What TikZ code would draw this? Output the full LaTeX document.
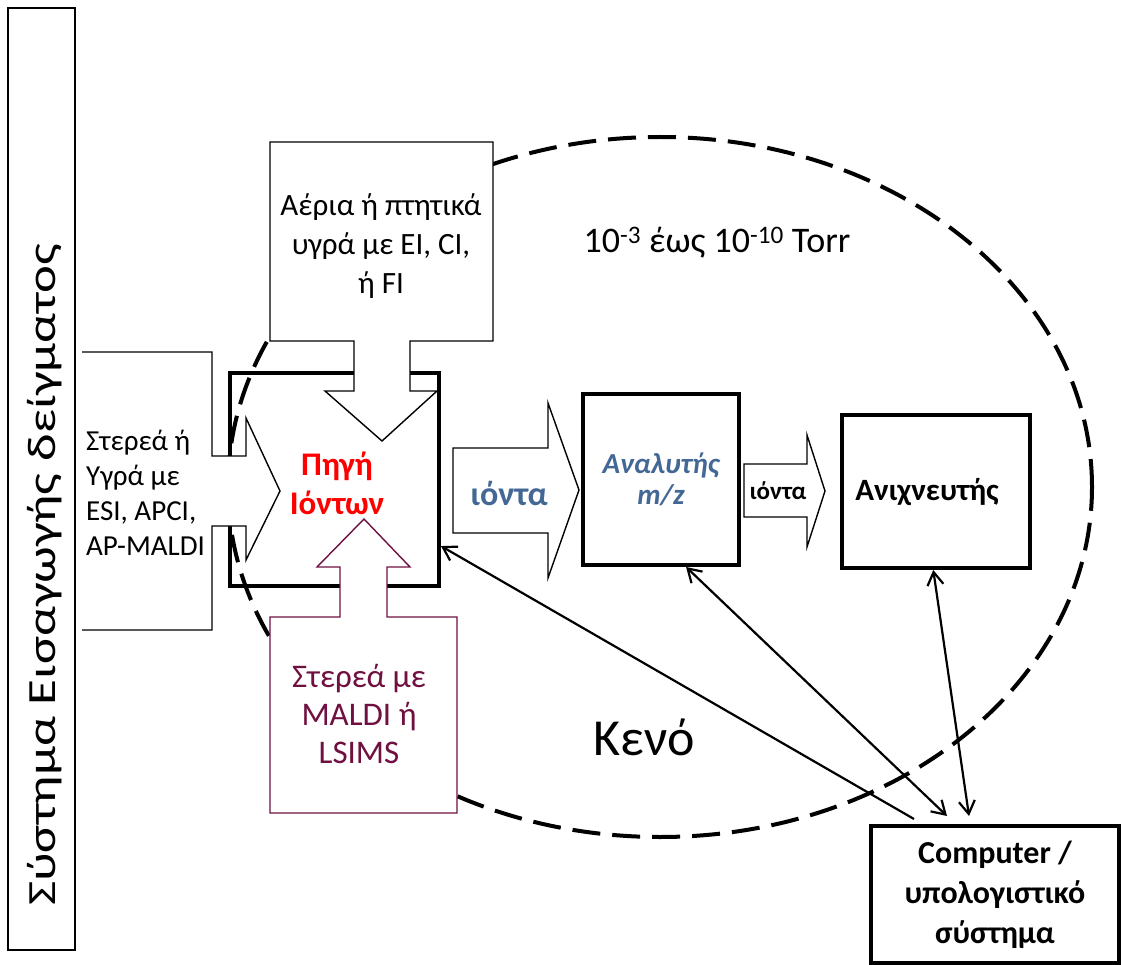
\documentclass[tikz,border=0pt]{standalone}
\usepackage{fontspec}
\setmainfont{Carlito}
\usepackage{tikz}
\usetikzlibrary{arrows.meta, positioning, calc}
\definecolor{srcred}{RGB}{255,0,0}
\definecolor{ionblue}{RGB}{68,104,150}
\definecolor{maldipurple}{RGB}{112,16,64}
\definecolor{mydark}{RGB}{0,0,0}
\tikzset{
  unitbox/.style={rectangle, draw=mydark, fill=white, line width=4pt,
    align=center, inner sep=2pt},
  inletbox/.style={rectangle, draw=mydark, line width=1.6pt,
    minimum width=67pt, minimum height=942pt},
  callout/.style={draw=mydark, fill=white, line width=1.4pt},
  maldicallout/.style={draw=maldipurple, fill=white, line width=1.4pt},
  ionarrow/.style={draw=mydark, fill=white, line width=1.4pt},
  vacuum/.style={draw=mydark, line width=4pt, dash pattern=on 28pt off 12pt},
  ctrltwo/.style={{Straight Barb[length=13pt,width=16pt]}-{Straight Barb[length=13pt,width=16pt]},
    line width=2.2pt, color=mydark},
  ctrlone/.style={{Straight Barb[length=13pt,width=16pt]}-, line width=2.2pt, color=mydark},
  lbl/.style={font=\fontsize{31}{39}\selectfont, align=center, inner sep=0pt}
}

\begin{document}
\begin{tikzpicture}[x=1pt, y=-1pt]

  \useasboundingbox (0,0) rectangle (1121,965);

  % ── Vacuum region (dashed) ────────────────────────────────────────────────
  \draw[vacuum] (660,487) ellipse [x radius=432pt, y radius=350pt];

  % ── Sample inlet column ───────────────────────────────────────────────────
  \node[inletbox] (inlet) at (41.5,479) {};
  \node[font=\fontsize{40}{48}\selectfont, rotate=90, xscale=1.32, inner sep=0pt]
       (inletlbl) at (45,575) {Σύστημα Εισαγωγής δείγματος};

  % ── Ion source ────────────────────────────────────────────────────────────
  \node[unitbox, fill=none, minimum width=209pt, minimum height=213pt]
       (source) at (334.5,479.5) {};

  % ── Inlet callouts: gas (top), liquid (left), MALDI (bottom) ──────────────
  \draw[callout] (354,341) -- (270,341) -- (270,142) -- (493,142) -- (493,341)
    -- (410,341) -- (410,391) -- (437,391) -- (382,441) -- (325,391)
    -- (354,391) -- cycle;
  \draw[callout] (82,352) -- (212,352) -- (212,456) -- (246,456) -- (246,418)
    -- (280,491) -- (246,560) -- (246,526) -- (212,526) -- (212,630)
    -- (82,630);
  \draw[maldicallout] (340,617) -- (270,617) -- (270,813) -- (457,813)
    -- (457,617) -- (387,617) -- (387,567) -- (410,567) -- (364,519)
    -- (317,567) -- (340,567) -- cycle;

  \node[lbl] (gaslbl) at (381,246) {Αέρια ή πτητικά\\υγρά με EI, CI,\\ή FI};
  \node[lbl, font=\fontsize{29}{35}\selectfont, align=left, anchor=west]
       (liqlbl) at (86,493) {Στερεά ή\\Υγρά με\\ESI, APCI,\\AP-MALDI};
  \node[lbl, text=maldipurple, font=\fontsize{33}{38}\selectfont]
       (maldilbl) at (359,714) {Στερεά με\\MALDI ή\\LSIMS};
  \node[lbl, text=srcred, font=\fontsize{33}{39}\selectfont\bfseries]
       (srclbl) at (337,483) {Πηγή\\Ιόντων};

  % ── Ion beam arrows ───────────────────────────────────────────────────────
  \draw[ionarrow] (453,448) -- (548,448) -- (548,403) -- (579,490)
    -- (548,578) -- (548,533) -- (453,533) -- cycle;
  \node[lbl, text=ionblue, font=\fontsize{34}{40}\selectfont\bfseries]
       (ions1) at (509,493) {ιόντα};
  \draw[ionarrow] (744,464) -- (807,464) -- (807,435) -- (825,491)
    -- (807,547) -- (807,517) -- (744,517) -- cycle;
  \node[lbl, font=\fontsize{25}{30}\selectfont\bfseries] (ions2) at (778,491) {ιόντα};

  % ── Analyser, detector, computer ──────────────────────────────────────────
  \node[unitbox, minimum width=156pt, minimum height=171pt, text=ionblue,
        font=\fontsize{29}{31}\selectfont\bfseries\itshape]
       (analyzer) at (661,479.5) {Αναλυτής\\m/z};
  \node[unitbox, minimum width=188pt, minimum height=153pt]
       (detector) at (936,491.5) {};
  \node[lbl, font=\fontsize{31}{36}\selectfont\bfseries]
       (detlbl) at (927,492) {Ανιχνευτής};
  \node[unitbox, minimum width=248pt, minimum height=137pt,
        font=\fontsize{32}{40}\selectfont\bfseries]
       (computer) at (995,894.5) {Computer /\\υπολογιστικό\\σύστημα};

  % ── Labels ────────────────────────────────────────────────────────────────
  \node[lbl, font=\fontsize{36}{40}\selectfont] (pressure) at (717,243)
       {10\textsuperscript{-3} έως 10\textsuperscript{-10} Torr};
  \node[lbl, font=\fontsize{52}{60}\selectfont] (vacuumlbl) at (644,737) {Κενό};

  % ── Control / data lines to the computer ──────────────────────────────────
  \draw[ctrlone] (source.-32) -- ($(computer.north)+(-81,-5)$);
  \draw[ctrltwo] (analyzer.-74) -- ($(computer.north)+(-48,-8)$);
  \draw[ctrltwo] (detector.-92) -- ($(computer.north)+(-26,-8)$);

\end{tikzpicture}
\end{document}
